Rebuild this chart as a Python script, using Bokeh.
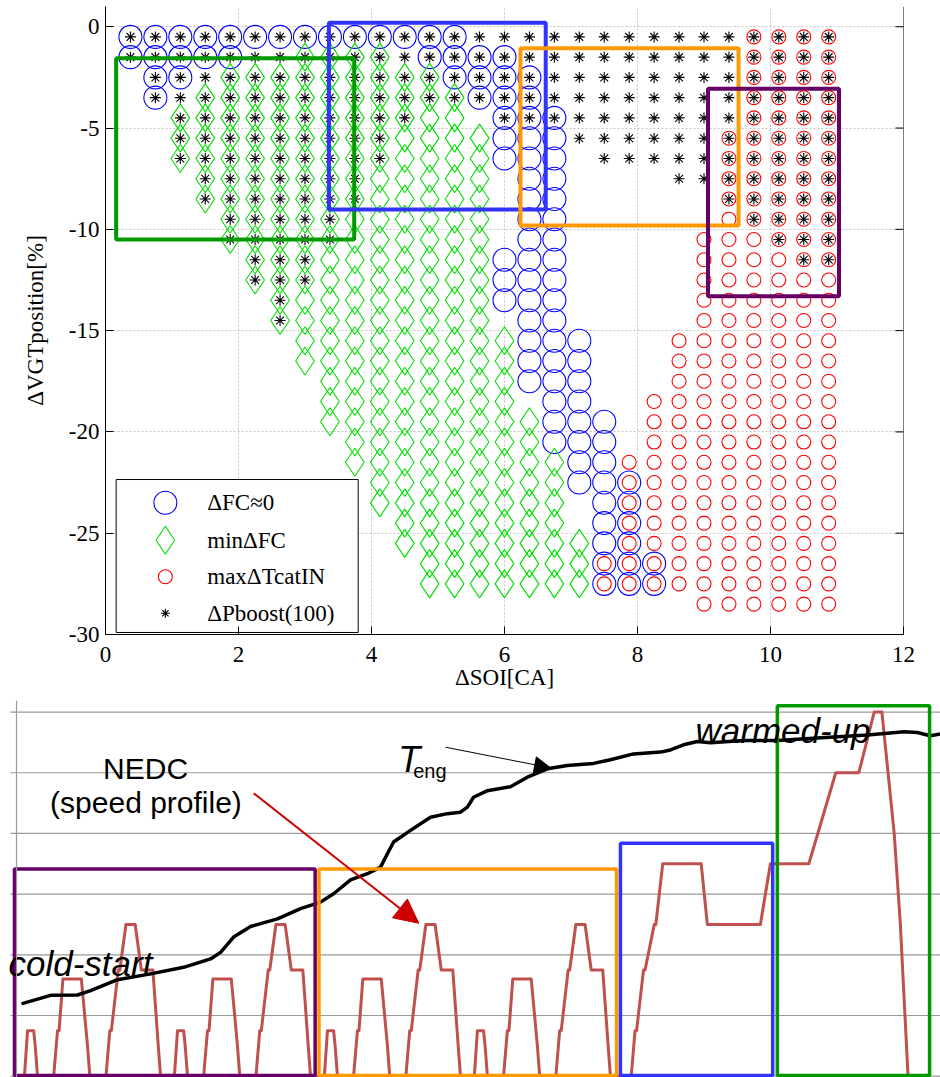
from bokeh.plotting import figure
from bokeh.layouts import column
from bokeh.models import Range1d, FixedTicker, Arrow, NormalHead, Span
from bokeh.core.properties import value
from bokeh.embed import file_html
from bokeh.resources import INLINE

# ---------------- top chart data ----------------
SOI_LEVELS = [0.375, 0.75, 1.125, 1.5, 1.875, 2.25, 2.625, 3.0, 3.375, 3.75,
              4.125, 4.5, 4.875, 5.25, 5.625, 6.0, 6.375, 6.75, 7.125, 7.5,
              7.875, 8.25, 8.625, 9.0, 9.375, 9.75, 10.125, 10.5, 10.875]
VGT_LEVELS = [-0.5, -1.5, -2.5, -3.5, -4.5, -5.5, -6.5, -7.5, -8.5, -9.5,
              -10.5, -11.5, -12.5, -13.5, -14.5, -15.5, -16.5, -17.5, -18.5, -19.5,
              -20.5, -21.5, -22.5, -23.5, -24.5, -25.5, -26.5, -27.5, -28.5]

# (SOI column number, first VGT row, last VGT row)
DFC0_RUNS = [(1, 0, 1), (2, 0, 3), (3, 0, 2), (4, 0, 1), (5, 0, 1), (6, 0, 0), (7, 0, 0),
             (8, 0, 0), (9, 0, 0), (10, 0, 0), (11, 0, 0), (12, 0, 0), (13, 0, 1), (14, 0, 2),
             (15, 1, 3), (16, 1, 6), (16, 11, 13), (17, 2, 17), (18, 4, 20), (19, 15, 22),
             (20, 19, 27), (21, 22, 27), (22, 26, 27)]
MINDFC_RUNS = [(3, 4, 6), (4, 3, 8), (5, 2, 10), (6, 2, 12), (7, 2, 14), (8, 1, 16), (9, 1, 19),
               (10, 1, 21), (11, 1, 23), (12, 2, 25), (13, 2, 27), (14, 3, 27), (15, 5, 27),
               (16, 15, 27), (17, 19, 27), (18, 21, 27), (19, 25, 27)]
MAXDTCAT_RUNS = [(20, 26, 27), (21, 21, 27), (22, 18, 27), (23, 15, 27), (24, 10, 28),
                 (25, 5, 28), (26, 0, 28), (27, 0, 28), (28, 0, 28), (29, 0, 28)]
# (VGT row, first SOI column, last SOI column)
PBOOST_RUNS = [(0, 1, 29), (1, 1, 29), (2, 2, 29), (3, 2, 29), (4, 3, 12), (4, 16, 29),
               (5, 3, 11), (5, 19, 29), (6, 3, 11), (6, 20, 29), (7, 4, 10), (7, 23, 29),
               (8, 4, 10), (8, 25, 29), (9, 5, 9), (9, 26, 29), (10, 5, 9), (10, 27, 29),
               (11, 6, 8), (11, 28, 29), (12, 6, 8), (13, 7, 7), (14, 7, 7)]

X_TICKS = [0, 2, 4, 6, 8, 10, 12]
Y_TICKS = [-30, -25, -20, -15, -10, -5, 0]
Y_TICK_LABELS = ["-30", "-25", "-20", "-15", "-10", "-5", "0"]

# highlighted regions (SOI left, SOI right, VGT top, VGT bottom)
TOP_BOX_COLORS = ["#009900", "#3333ff", "#ff9900", "#660066"]
TOP_BOX_LEFT = [0.16, 3.36, 6.24, 9.06]
TOP_BOX_RIGHT = [3.74, 6.62, 9.52, 11.03]
TOP_BOX_TOP = [-1.55, 0.2, -1.06, -3.06]
TOP_BOX_BOTTOM = [-10.5, -9.02, -9.81, -13.3]

LEGEND_LABELS = ["\u0394FC\u22480", "min\u0394FC", "max\u0394TcatIN", "\u0394Pboost(100)"]

# ---------------- bottom chart data ----------------
ECE_T = [0, 11, 15, 23, 25, 28, 49, 54, 56, 61, 85, 93, 96, 117, 122, 124, 133, 135,
         143, 155, 163, 176, 178, 185, 188, 195]
ECE_V = [0, 0, 15, 15, 10, 0, 0, 15, 15, 32, 32, 10, 0, 0, 15, 15, 35, 35,
         50, 50, 35, 35, 35, 10, 0, 0]
ECE_STARTS = [0, 195, 390, 585]
EUDC_START = 780
EUDC_T = [0, 20, 25, 27, 36, 38, 50, 52, 61, 111, 119, 188, 201, 251, 286, 316,
          336, 346, 362, 370, 380, 400]
EUDC_V = [0, 0, 15, 15, 35, 35, 50, 50, 70, 70, 50, 50, 70, 70, 100, 100,
          120, 120, 80, 50, 0, 0]

TENG_T = [9, 45, 80, 97, 132, 175, 218, 253, 266, 283, 305, 340, 370, 396, 413, 435,
          457, 474, 483, 491, 513, 539, 561, 578, 587, 595, 613, 643, 665, 691, 717,
          751, 773, 803, 838, 851, 868, 886, 903, 946, 990, 1042, 1107, 1155, 1172,
          1189, 1202]
TENG_C = [20.0, 22.2, 22.3, 23.5, 26.5, 28.1, 29.9, 32.2, 34.0, 38.2, 41.1, 43.2, 46.0,
          47.8, 50.1, 53.9, 55.6, 57.4, 61.1, 64.3, 67.5, 71.1, 72.1, 72.5, 73.9, 76.6,
          78.4, 79.5, 82.1, 84.4, 85.3, 85.9, 86.9, 88.5, 89.0, 89.6, 91.0, 91.9, 91.6,
          92.2, 92.2, 92.9, 93.7, 94.6, 94.4, 93.5, 94.0]

SPEED_GRID = [0, 20, 40, 60, 80, 100, 120]

BOT_BOX_COLORS = ["#660066", "#ff9900", "#3333ff", "#009900"]
BOT_BOX_LEFT = [-2, 394, 786, 990]
BOT_BOX_RIGHT = [389, 781, 984, 1188]
BOT_BOX_TOP = [68.3, 68.3, 76.8, 122.1]
BOT_BOX_BOTTOM = [0.2, 0.2, 0.2, 0.2]

# ---------------- helpers ----------------
def expand_cols(runs):
    xs, ys = [], []
    for c, r0, r1 in runs:
        for r in range(r0, r1 + 1):
            xs.append(SOI_LEVELS[c - 1])
            ys.append(VGT_LEVELS[r])
    return xs, ys


def expand_rows(runs):
    xs, ys = [], []
    for r, c0, c1 in runs:
        for c in range(c0, c1 + 1):
            xs.append(SOI_LEVELS[c - 1])
            ys.append(VGT_LEVELS[r])
    return xs, ys


SERIF = "Liberation Serif"
SANS = "Liberation Sans"

# ---------------- top figure ----------------
p1 = figure(width=940, height=700, x_range=Range1d(0, 12), y_range=Range1d(-30, 1),
            output_backend="svg", toolbar_location=None,
            min_border_left=105, min_border_right=37, min_border_top=6, min_border_bottom=66)
p1.frame_align = False
p1.outline_line_color = None
p1.background_fill_color = "white"
p1.border_fill_color = "white"

p1.xaxis.ticker = FixedTicker(ticks=X_TICKS)
p1.yaxis.ticker = FixedTicker(ticks=Y_TICKS)
p1.yaxis.major_label_overrides = dict(zip(Y_TICKS, Y_TICK_LABELS))
p1.xaxis.axis_label = "\u0394SOI[CA]"
p1.yaxis.axis_label = "\u0394VGTposition[%]"
for ax in (p1.xaxis[0], p1.yaxis[0]):
    ax.major_label_text_font = SERIF
    ax.major_label_text_font_size = "23px"
    ax.major_label_text_color = "black"
    ax.axis_label_text_font = SERIF
    ax.axis_label_text_font_size = "23px"
    ax.axis_label_text_font_style = "normal"
    ax.axis_label_text_color = "black"
    ax.major_tick_in = 8
    ax.major_tick_out = 0
    ax.minor_tick_line_color = None
    ax.axis_line_color = "black"
    ax.major_tick_line_color = "black"
p1.xaxis.major_label_standoff = 12
p1.xaxis.axis_label_standoff = 0
p1.yaxis.major_label_standoff = 6
p1.yaxis.axis_label_standoff = 18

p1.grid.grid_line_color = "#c4c4c4"
p1.grid.grid_line_dash = "2 2"
p1.grid.grid_line_width = 1

# right frame edge with inward ticks (no labels)
p1.add_layout(Span(location=X_TICKS[-1], dimension="height", line_color="black", line_width=1))
p1.segment(x0=[X_TICKS[-1] - 0.12] * len(Y_TICKS), x1=[X_TICKS[-1]] * len(Y_TICKS),
           y0=Y_TICKS, y1=Y_TICKS, line_color="black", line_width=1)

bx, by = expand_cols(DFC0_RUNS)
p1.scatter(bx, by, marker="circle", size=23, fill_color=None, line_color="#0000ff", line_width=1.1)
gx, gy = expand_cols(MINDFC_RUNS)
p1.scatter(gx, gy, marker="diamond", size=28, fill_color=None, line_color="#00dd00", line_width=1.1)
rx, ry = expand_cols(MAXDTCAT_RUNS)
p1.scatter(rx, ry, marker="circle", size=14, fill_color=None, line_color="#ff0000", line_width=1.1)
kx, ky = expand_rows(PBOOST_RUNS)
p1.scatter(kx, ky, marker="asterisk", size=11, line_color="black", line_width=1.1)

p1.quad(left=TOP_BOX_LEFT, right=TOP_BOX_RIGHT, top=TOP_BOX_TOP, bottom=TOP_BOX_BOTTOM,
        fill_color=None, line_color=TOP_BOX_COLORS, line_width=4)

# legend (drawn by hand so each symbol keeps its plotted size)
LEG_LEFT, LEG_RIGHT, LEG_TOP, LEG_BOTTOM = 0.16, 3.80, -22.35, -29.9
LEG_SYMBOL_X, LEG_TEXT_X = 0.90, 1.53
LEG_ROWS = [-23.5, -25.35, -27.15, -28.95]
p1.quad(left=[LEG_LEFT], right=[LEG_RIGHT], top=[LEG_TOP], bottom=[LEG_BOTTOM],
        fill_color="white", line_color="black", line_width=1)
p1.scatter([LEG_SYMBOL_X], [LEG_ROWS[0]], marker="circle", size=23, fill_color=None,
           line_color="#0000ff", line_width=1.1)
p1.scatter([LEG_SYMBOL_X], [LEG_ROWS[1]], marker="diamond", size=28, fill_color=None,
           line_color="#00dd00", line_width=1.1)
p1.scatter([LEG_SYMBOL_X], [LEG_ROWS[2]], marker="circle", size=14, fill_color=None,
           line_color="#ff0000", line_width=1.1)
p1.scatter([LEG_SYMBOL_X], [LEG_ROWS[3]], marker="asterisk", size=9, line_color="black",
           line_width=1.1)
p1.text(x=[LEG_TEXT_X] * 4, y=LEG_ROWS, text=LEGEND_LABELS, text_font=value(SERIF),
        text_font_size="23px", text_baseline="middle", text_align="left", text_color="black")

# ---------------- bottom figure ----------------
speed_t, speed_v = [], []
for s in ECE_STARTS:
    speed_t += [s + t for t in ECE_T]
    speed_v += ECE_V
speed_t += [EUDC_START + t for t in EUDC_T]
speed_v += EUDC_V

p2 = figure(width=940, height=377, x_range=Range1d(-20.16, 1202.2), y_range=Range1d(-0.43, 123.8),
            x_axis_location=None, y_axis_location=None, output_backend="svg",
            toolbar_location=None, min_border=0)
p2.frame_align = False
p2.outline_line_color = None
p2.grid.visible = False
p2.extra_y_ranges = {"temp": Range1d(-0.358, 103.17)}

p2.segment(x0=[-7.2] * len(SPEED_GRID), x1=[1202.2] * len(SPEED_GRID), y0=SPEED_GRID, y1=SPEED_GRID,
           line_color="#9a9a9a", line_width=1.2)
p2.add_layout(Span(location=0.65, dimension="height", line_color="#9a9a9a", line_width=1.2))

p2.line(speed_t, speed_v, line_color="#c0504d", line_width=3, line_join="round")
p2.line(TENG_T, TENG_C, y_range_name="temp", line_color="black", line_width=3.5,
        line_join="round", line_cap="round")

p2.quad(left=BOT_BOX_LEFT, right=BOT_BOX_RIGHT, top=BOT_BOX_TOP, bottom=BOT_BOX_BOTTOM,
        fill_color=None, line_color=BOT_BOX_COLORS, line_width=3.5)

p2.text(x=[168.5], y=[101.3], text=["NEDC"], text_font=value(SANS), text_font_size="30px",
        text_align="center", text_baseline="alphabetic", text_color="black")
p2.text(x=[169], y=[90.3], text=["(speed profile)"], text_font=value(SANS), text_font_size="30px",
        text_align="center", text_baseline="alphabetic", text_color="black")
p2.text(x=[-9.8], y=[37.0], text=["cold-start"], text_font=value(SANS), text_font_size="35px",
        text_font_style="italic", text_align="left", text_baseline="alphabetic", text_color="black")
p2.text(x=[883.6], y=[113.9], text=["warmed-up"], text_font=value(SANS), text_font_size="35px",
        text_font_style="italic", text_align="left", text_baseline="alphabetic", text_color="black")
p2.text(x=[497], y=[104.3], text=["T"], text_font=value(SANS), text_font_size="36px",
        text_font_style="italic", text_align="left", text_baseline="alphabetic", text_color="black")
p2.text(x=[516.5], y=[100.5], text=["eng"], text_font=value(SANS), text_font_size="20px",
        text_align="left", text_baseline="alphabetic", text_color="black")

p2.add_layout(Arrow(end=NormalHead(size=24, fill_color="#cc0000", line_color="#cc0000"),
                    x_start=309.2, y_start=93.2, x_end=523.8, y_end=50.4,
                    line_color="#cc0000", line_width=2))
p2.add_layout(Arrow(end=NormalHead(size=16, fill_color="black", line_color="black"),
                    x_start=558.5, y_start=108.4, x_end=695.1, y_end=101.6,
                    line_color="black", line_width=1))

layout = column(p1, p2, spacing=0)
open("out.html", "w").write(file_html(layout, INLINE))
